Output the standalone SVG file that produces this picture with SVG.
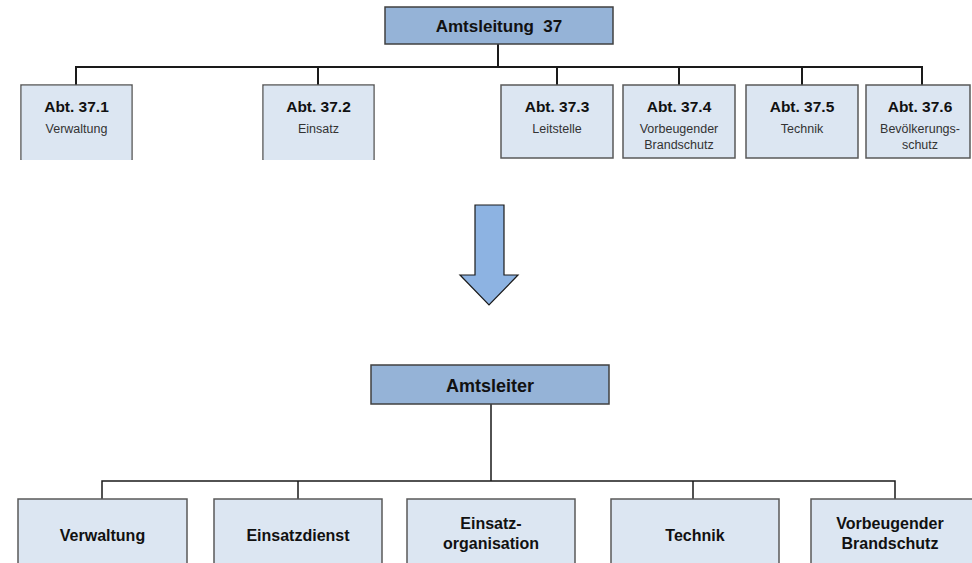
<svg xmlns="http://www.w3.org/2000/svg" width="972" height="563" viewBox="0 0 972 563">
<style>
.head{fill:#95b3d7;stroke:#404040;stroke-width:1.5}
.box{fill:#dce6f2;stroke:#595959;stroke-width:1.5}
.conn{fill:none;stroke:#1a1a1a;stroke-width:2}
.conn2{fill:none;stroke:#1a1a1a;stroke-width:1.5}
text{font-family:"Liberation Sans",Arial,sans-serif;text-anchor:middle;fill:#111}
.t1{font-size:15.5px;font-weight:bold}
.t2{font-size:12.5px;fill:#333}
.tb{font-size:16px;font-weight:bold}
.th{font-size:17px;font-weight:bold}
</style>
<rect width="972" height="563" fill="#fff"/>
<g id="connectors">
<path class="conn" d="M498,44V67M76,85V67H922V85M318,67V85M557,67V85M679,67V85M802,67V85"/>
<path class="conn2" d="M491,404V481M102,499V481H895V499M298,481V499M693,481V499"/>
</g>
<g id="amtsleitung37">
<rect class="head" x="385" y="7" width="228" height="37"/>
<text class="th" x="499" y="32" xml:space="preserve">Amtsleitung  37</text>
</g>
<g id="abt371">
<path class="box" d="M21,160V85H132V160"/>
<rect x="21.75" y="85.75" width="109.5" height="74" fill="#dce6f2"/>
<text class="t1" x="76.5" y="112">Abt. 37.1</text>
<text class="t2" x="76.5" y="133">Verwaltung</text>
</g>
<g id="abt372">
<path class="box" d="M263,160V85H374V160"/>
<rect x="263.75" y="85.75" width="109.5" height="74" fill="#dce6f2"/>
<text class="t1" x="318.5" y="112">Abt. 37.2</text>
<text class="t2" x="318.5" y="133">Einsatz</text>
</g>
<g id="abt373">
<rect class="box" x="501" y="85" width="112" height="73"/>
<text class="t1" x="557" y="112">Abt. 37.3</text>
<text class="t2" x="557" y="133">Leitstelle</text>
</g>
<g id="abt374">
<rect class="box" x="623" y="85" width="112" height="73"/>
<text class="t1" x="679" y="112">Abt. 37.4</text>
<text class="t2" x="679" y="133">Vorbeugender</text>
<text class="t2" x="679" y="149">Brandschutz</text>
</g>
<g id="abt375">
<rect class="box" x="746" y="85" width="112" height="73"/>
<text class="t1" x="802" y="112">Abt. 37.5</text>
<text class="t2" x="802" y="133">Technik</text>
</g>
<g id="abt376">
<rect class="box" x="866" y="85" width="104" height="73"/>
<text class="t1" x="920" y="112">Abt. 37.6</text>
<text class="t2" x="920" y="133">Bevölkerungs-</text>
<text class="t2" x="920" y="149">schutz</text>
</g>
<g id="arrow">
<polygon points="475,205 504,205 504,275 518,275 489,305 460,275 475,275" fill="#8db3e2" stroke="#1a1a1a" stroke-width="1.2"/>
</g>
<g id="amtsleiter">
<rect class="head" x="371" y="365" width="238" height="39"/>
<text class="th" x="490" y="392" style="font-size:18px">Amtsleiter</text>
</g>
<g id="verwaltung">
<path class="box" d="M18,565V499H187V565"/>
<text class="tb" x="102.5" y="541">Verwaltung</text>
</g>
<g id="einsatzdienst">
<path class="box" d="M214,565V499H382V565"/>
<text class="tb" x="298" y="541">Einsatzdienst</text>
</g>
<g id="einsatzorganisation">
<path class="box" d="M407,565V499H575V565"/>
<text class="tb" x="491" y="529">Einsatz-</text>
<text class="tb" x="491" y="549">organisation</text>
</g>
<g id="technik">
<path class="box" d="M611,565V499H779V565"/>
<text class="tb" x="695" y="541">Technik</text>
</g>
<g id="vorbeugender">
<path class="box" d="M811,565V499H980V565"/>
<text class="tb" x="890" y="529">Vorbeugender</text>
<text class="tb" x="890" y="549">Brandschutz</text>
</g>
</svg>
